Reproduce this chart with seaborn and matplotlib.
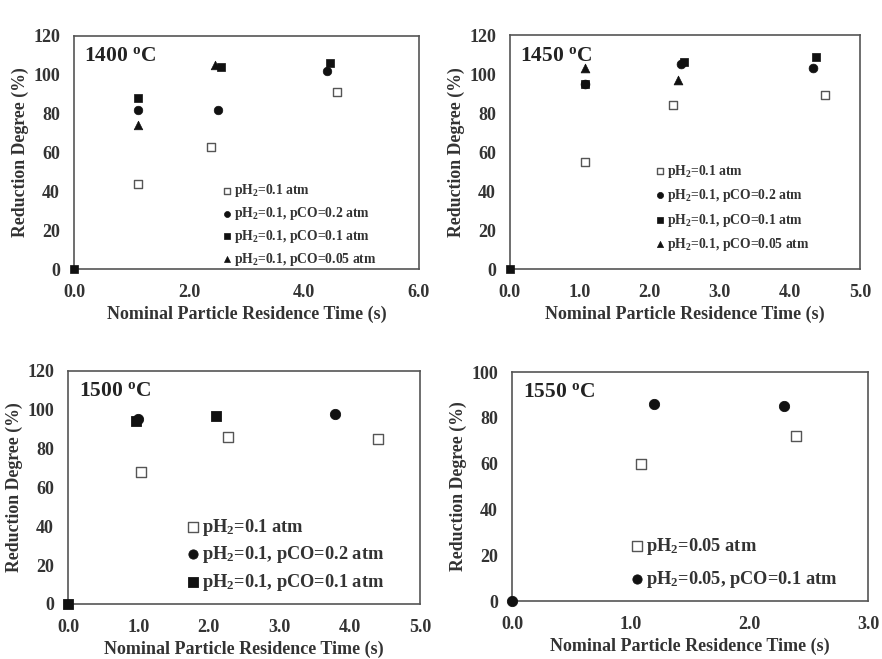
import matplotlib
matplotlib.use("Agg")
import matplotlib.pyplot as plt
import seaborn as sns
import pandas as pd

# ---- 1400 °C ----
t1400_h2 = [1.12, 2.39, 4.58]
r1400_h2 = [44, 63, 91]
t1400_co02 = [1.12, 2.51, 4.41]
r1400_co02 = [82, 82, 102]
t1400_co01 = [0.0, 1.12, 2.55, 4.45]
r1400_co01 = [0, 88, 104, 106]
t1400_co005 = [1.12, 2.45]
r1400_co005 = [74, 105]

# ---- 1450 °C ----
t1450_h2 = [1.07, 2.33, 4.50]
r1450_h2 = [55, 84, 89]
t1450_co02 = [1.07, 2.44, 4.33]
r1450_co02 = [95, 105, 103]
t1450_co01 = [0.0, 1.07, 2.49, 4.37]
r1450_co01 = [0, 95, 106, 109]
t1450_co005 = [1.07, 2.40]
r1450_co005 = [103, 97]

# ---- 1500 °C ----
t1500_h2 = [1.04, 2.27, 4.41]
r1500_h2 = [68, 86, 85]
t1500_co02 = [0.99, 3.79]
r1500_co02 = [95, 98]
t1500_co01 = [0.0, 0.97, 2.10]
r1500_co01 = [0, 94, 97]

# ---- 1550 °C ----
t1550_h2 = [1.09, 2.39]
r1550_h2 = [60, 72]
t1550_co01 = [0.0, 1.20, 2.29]
r1550_co01 = [0, 86, 85]

panel_titles = ["1400 $^{o}$C", "1450 $^{o}$C", "1500 $^{o}$C", "1550 $^{o}$C"]
x_limits = [6.0, 5.0, 5.0, 3.0]
y_limits = [120, 120, 120, 100]

lbl_h2 = "pH$_2$=0.1 atm"
lbl_co02 = "pH$_2$=0.1, pCO=0.2 atm"
lbl_co01 = "pH$_2$=0.1, pCO=0.1 atm"
lbl_co005 = "pH$_2$=0.1, pCO=0.05 atm"
lbl_h2_005 = "pH$_2$=0.05 atm"
lbl_h2_005_co = "pH$_2$=0.05, pCO=0.1 atm"

sns.set_theme(style="white")
plt.rcParams["font.family"] = ["Liberation Serif", "DejaVu Serif"]
plt.rcParams["font.weight"] = "bold"
plt.rcParams["mathtext.fontset"] = "custom"
plt.rcParams["mathtext.rm"] = "Liberation Serif:bold"
plt.rcParams["mathtext.it"] = "Liberation Serif:bold"
plt.rcParams["mathtext.bf"] = "Liberation Serif:bold"

fig = plt.figure(figsize=(8.82, 6.59), dpi=100)
fig.patch.set_facecolor("white")

boxes = [
    [0.0839, 0.5918, 0.391, 0.3536],
    [0.578, 0.5918, 0.397, 0.355],
    [0.0771, 0.0835, 0.399, 0.3536],
    [0.5805, 0.088, 0.4036, 0.3475],
]

OPEN = dict(marker="s", facecolor="white", edgecolor="#555555", linewidth=1.0)
CIRC = dict(marker="o", color="#111111", edgecolor="#111111")
SQ = dict(marker="s", color="#111111", edgecolor="#111111")
TRI = dict(marker="^", color="#111111", edgecolor="#111111")

series = [
    [(t1400_h2, r1400_h2, lbl_h2, OPEN), (t1400_co02, r1400_co02, lbl_co02, CIRC),
     (t1400_co01, r1400_co01, lbl_co01, SQ), (t1400_co005, r1400_co005, lbl_co005, TRI)],
    [(t1450_h2, r1450_h2, lbl_h2, OPEN), (t1450_co02, r1450_co02, lbl_co02, CIRC),
     (t1450_co01, r1450_co01, lbl_co01, SQ), (t1450_co005, r1450_co005, lbl_co005, TRI)],
    [(t1500_h2, r1500_h2, lbl_h2, OPEN), (t1500_co02, r1500_co02, lbl_co02, CIRC),
     (t1500_co01, r1500_co01, lbl_co01, SQ)],
    [(t1550_h2, r1550_h2, lbl_h2_005, OPEN), (t1550_co01, r1550_co01, lbl_h2_005_co, CIRC)],
]

marker_sizes = [38, 40, 55, 55]
legend_font = [9.8, 9.8, 13.2, 13.2]
legend_anchor = [(0.425, 0.372), (0.41, 0.455), (0.33, 0.375), (0.325, 0.285)]
legend_spacing = [0.43, 0.55, 0.36, 0.67]
x_steps = [2.0, 1.0, 1.0, 1.0]

for i, box in enumerate(boxes):
    ax = fig.add_axes(box)
    for xs, ys, lab, style in series[i]:
        df = pd.DataFrame({"t": xs, "r": ys})
        sns.scatterplot(data=df, x="t", y="r", ax=ax, s=marker_sizes[i],
                        label=lab, clip_on=False, zorder=3, **style)
    ax.set_xlim(0, x_limits[i])
    ax.set_ylim(0, y_limits[i])
    n = int(round(x_limits[i] / x_steps[i]))
    xt = [k * x_steps[i] for k in range(n + 1)]
    ax.set_xticks(xt)
    ax.set_xticklabels([f"{v:.1f}" for v in xt])
    ax.set_yticks(list(range(0, y_limits[i] + 1, 20)))
    ax.tick_params(axis="both", length=0, labelsize=13, colors="#333333")
    ax.tick_params(axis="y", pad=10)
    ax.tick_params(axis="x", pad=11)
    for lab in ax.get_xticklabels() + ax.get_yticklabels():
        lab.set_fontweight("bold")
    for sp in ax.spines.values():
        sp.set_color("#555555")
        sp.set_linewidth(1.2)
    ax.set_xlabel("Nominal Particle Residence Time (s)", fontsize=13,
                  fontweight="bold", color="#333333", labelpad=3)
    ax.set_ylabel("Reduction Degree (%)", fontsize=12.8,
                  fontweight="bold", color="#333333", labelpad=3)
    ax.text(0.03, 0.955, panel_titles[i], transform=ax.transAxes, fontsize=15.5,
            fontweight="bold", va="top", ha="left", color="#222222")
    leg = ax.legend(loc="upper left", bbox_to_anchor=legend_anchor[i], frameon=False,
                    fontsize=legend_font[i], handletextpad=0.0, borderaxespad=0,
                    borderpad=0, labelspacing=legend_spacing[i], handlelength=1.0,
                    markerscale=0.7 if i < 2 else 0.9)
    for txt in leg.get_texts():
        txt.set_color("#333333")

fig.savefig("out.png", dpi=100, facecolor="white")
